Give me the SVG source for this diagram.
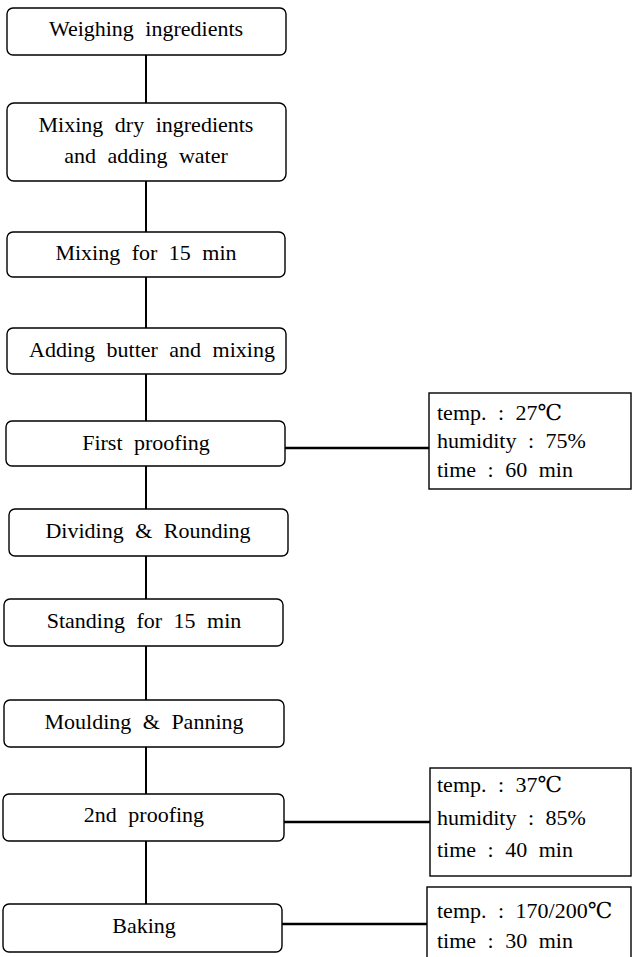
<svg xmlns="http://www.w3.org/2000/svg" width="632" height="957" viewBox="0 0 632 957">
<style>
.box{fill:#fff;stroke:#000;stroke-width:1.4}
.side{fill:#fff;stroke:#000;stroke-width:1.4}
.t{font-family:"Liberation Serif","DejaVu Serif","Noto Sans CJK KR",serif;font-size:22px;fill:#000;word-spacing:6px}
.c{text-anchor:middle}
.conn line{stroke:#000;stroke-width:2}
</style>
<rect width="632" height="957" fill="#fff"/>
<g class="conn">
<line x1="146" y1="55" x2="146" y2="103"/>
<line x1="146" y1="181" x2="146" y2="232"/>
<line x1="146" y1="277" x2="146" y2="328"/>
<line x1="146" y1="374" x2="146" y2="421"/>
<line x1="146" y1="466" x2="146" y2="509"/>
<line x1="146" y1="556" x2="146" y2="599"/>
<line x1="146" y1="646" x2="146" y2="700"/>
<line x1="146" y1="747" x2="146" y2="794"/>
<line x1="146" y1="841" x2="146" y2="904"/>
<line x1="285" y1="448" x2="429" y2="448" style="stroke-width:2.5"/>
<line x1="284" y1="822" x2="430" y2="822" style="stroke-width:2.5"/>
<line x1="282" y1="924" x2="427" y2="924" style="stroke-width:2.5"/>
</g>
<g id="n1"><rect class="box" x="7" y="8" width="279" height="47" rx="6"/><text class="t c" x="146" y="36">Weighing ingredients</text></g>
<g id="n2"><rect class="box" x="7" y="103" width="279" height="78" rx="7"/><text class="t c" x="146" y="132">Mixing dry ingredients</text><text class="t c" x="146" y="163">and adding water</text></g>
<g id="n3"><rect class="box" x="7" y="232" width="278" height="45" rx="6"/><text class="t c" x="146" y="260">Mixing for 15 min</text></g>
<g id="n4"><rect class="box" x="7" y="328" width="279" height="46" rx="6"/><text class="t c" x="152" y="357">Adding butter and mixing</text></g>
<g id="n5"><rect class="box" x="6" y="421" width="279" height="45" rx="6"/><text class="t c" x="146" y="450">First proofing</text></g>
<g id="n6"><rect class="box" x="9" y="509" width="279" height="47" rx="6"/><text class="t c" x="148" y="538">Dividing &amp; Rounding</text></g>
<g id="n7"><rect class="box" x="4" y="599" width="279" height="47" rx="6"/><text class="t c" x="144" y="628">Standing for 15 min</text></g>
<g id="n8"><rect class="box" x="4" y="700" width="280" height="47" rx="6"/><text class="t c" x="144" y="729">Moulding &amp; Panning</text></g>
<g id="n9"><rect class="box" x="3" y="794" width="281" height="47" rx="6"/><text class="t c" x="144" y="822">2nd proofing</text></g>
<g id="n10"><rect class="box" x="3" y="904" width="279" height="48" rx="6"/><text class="t c" x="144" y="933">Baking</text></g>
<g id="s1"><rect class="side" x="429" y="393" width="202" height="96"/>
<text class="t" x="437" y="420">temp. : 27℃</text>
<text class="t" x="437" y="448">humidity : 75%</text>
<text class="t" x="437" y="477">time : 60 min</text></g>
<g id="s2"><rect class="side" x="430" y="768" width="201" height="108"/>
<text class="t" x="437" y="792">temp. : 37℃</text>
<text class="t" x="437" y="825">humidity : 85%</text>
<text class="t" x="437" y="857">time : 40 min</text></g>
<g id="s3"><rect class="side" x="427" y="887" width="204" height="80"/>
<text class="t" x="437" y="918">temp. : 170/200℃</text>
<text class="t" x="437" y="948">time : 30 min</text></g>
</svg>
